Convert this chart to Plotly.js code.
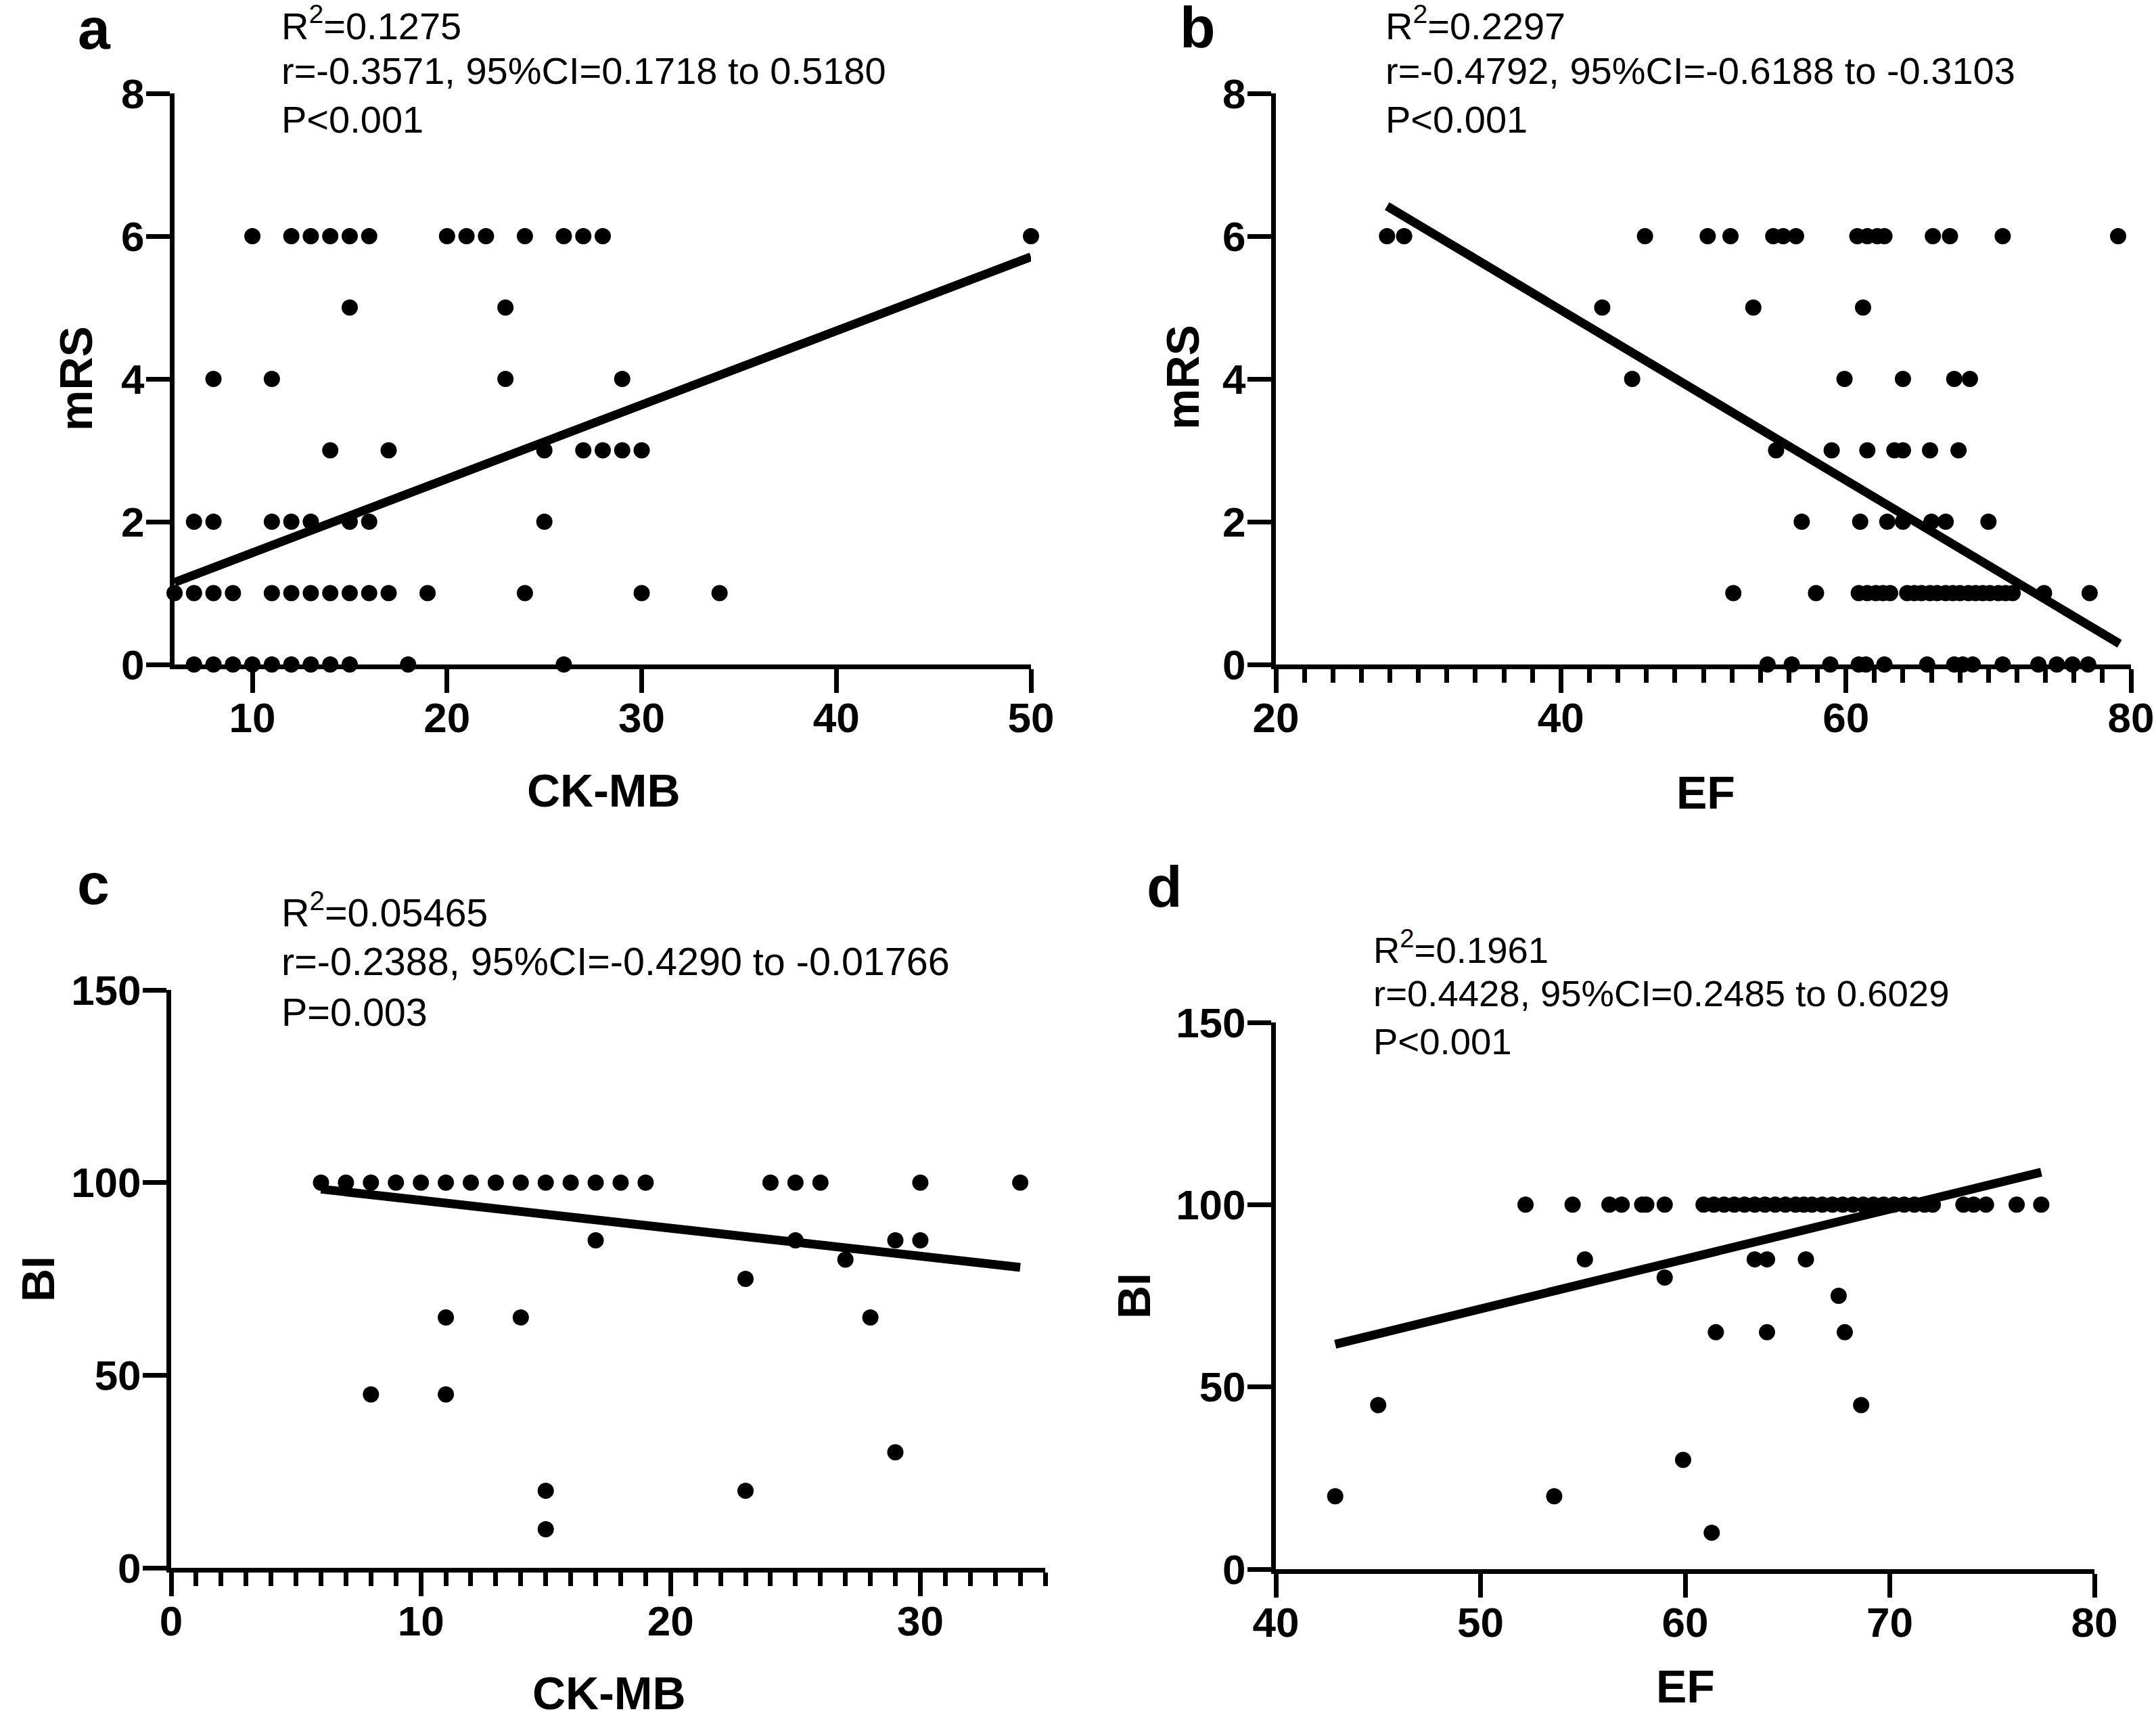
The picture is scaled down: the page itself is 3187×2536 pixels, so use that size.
<!DOCTYPE html>
<html>
<head>
<meta charset="utf-8">
<script src="https://cdn.plot.ly/plotly-3.0.1.min.js"></script>
<style>html,body{margin:0;padding:0;background:#fff;}</style>
</head>
<body>
<div id="chart" style="width:3187px;height:2536px;"></div>
<script>
// ---------- Panel a: CK-MB vs mRS ----------
const ckmbA = [10,12,13,14,15,16,20,21,22,24,26,27,28,50,
               15,23,
               8,11,23,29,
               14,17,25,27,28,29,30,
               7,8,11,12,13,15,16,25,
               6,7,8,9,11,12,13,14,15,16,17,19,24,30,34,
               7,8,9,10,11,12,13,14,15,18,26];
const mrsA  = [6,6,6,6,6,6,6,6,6,6,6,6,6,6,
               5,5,
               4,4,4,4,
               3,3,3,3,3,3,3,
               2,2,2,2,2,2,2,2,
               1,1,1,1,1,1,1,1,1,1,1,1,1,1,1,
               0,0,0,0,0,0,0,0,0,0,0];
const fitA_x = [6, 50];
const fitA_y = [1.15, 5.71];

// ---------- Panel b: EF vs mRS ----------
const efB  = [27.8,29.0,45.9,50.3,51.9,54.9,55.6,56.5,60.8,61.5,62.2,62.7,66.1,67.3,71.0,79.1,
              42.9,53.5,61.2,
              45.0,59.9,64.0,67.6,68.7,
              55.1,59.0,61.5,63.4,64.0,65.9,67.9,
              56.9,61.0,62.9,64.0,66.0,67.0,70.0,
              52.1,57.9,60.9,61.5,62.1,62.6,63.1,64.3,64.8,65.3,65.9,66.4,67.0,67.5,68.0,68.6,69.1,69.6,70.1,70.7,71.2,71.7,73.9,77.1,
              54.5,56.2,58.9,60.9,61.4,62.7,65.7,67.6,68.2,68.9,71.0,73.5,74.8,75.9,77.0];
const mrsB = [6,6,6,6,6,6,6,6,6,6,6,6,6,6,6,6,
              5,5,5,
              4,4,4,4,4,
              3,3,3,3,3,3,3,
              2,2,2,2,2,2,2,
              1,1,1,1,1,1,1,1,1,1,1,1,1,1,1,1,1,1,1,1,1,1,1,1,
              0,0,0,0,0,0,0,0,0,0,0,0,0,0,0];
const fitB_x = [27.8, 79.2];
const fitB_y = [6.42, 0.29];

// ---------- Panel c: CK-MB vs BI ----------
const ckmbC = [6,7,8,9,10,11,12,13,14,15,16,17,18,19,24,25,26,30,34,
               17,25,29,30,
               27,
               23,
               11,14,28,
               8,11,
               29,
               15,23,
               15];
const biC   = [100,100,100,100,100,100,100,100,100,100,100,100,100,100,100,100,100,100,100,
               85,85,85,85,
               80,
               75,
               65,65,65,
               45,45,
               30,
               20,20,
               10];
const fitC_x = [6, 34];
const fitC_y = [98.3, 78.0];

// ---------- Panel d: EF vs BI ----------
const efD = [52.2,54.5,56.3,56.9,57.9,58.1,59.0,
             60.9,61.4,61.9,62.4,62.9,63.4,63.9,64.4,64.9,65.4,65.8,66.2,66.7,67.2,67.7,68.2,68.7,69.2,69.7,70.2,70.7,71.2,71.7,72.1,
             73.6,74.1,74.7,76.2,77.4,
             55.1,63.4,64.0,65.9,
             59.0,
             67.5,
             61.5,64.0,67.8,
             45.0,68.6,
             59.9,
             42.9,53.6,
             61.3];
const biD = [100,100,100,100,100,100,100,
             100,100,100,100,100,100,100,100,100,100,100,100,100,100,100,100,100,100,100,100,100,100,100,100,
             100,100,100,100,100,
             85,85,85,85,
             80,
             75,
             65,65,65,
             45,45,
             30,
             20,20,
             10];
const fitD_x = [42.9, 77.4];
const fitD_y = [61.7, 108.9];

// ---------- Tick values ----------
const ticksXA = [10, 20, 30, 40, 50];
const ticksXB = [20, 40, 60, 80];
const ticksXC = [0, 10, 20, 30];
const ticksXD = [40, 50, 60, 70, 80];
const ticksMRS = [0, 2, 4, 6, 8];
const ticksBI = [0, 50, 100, 150];

// ---------- Text ----------
const panelLetters = ['a','b','c','d'];
const statsA = ['R<sup>2</sup>=0.1275', 'r=-0.3571, 95%CI=0.1718 to 0.5180', 'P&lt;0.001'];
const statsB = ['R<sup>2</sup>=0.2297', 'r=-0.4792, 95%CI=-0.6188 to -0.3103', 'P&lt;0.001'];
const statsC = ['R<sup>2</sup>=0.05465', 'r=-0.2388, 95%CI=-0.4290 to -0.01766', 'P=0.003'];
const statsD = ['R<sup>2</sup>=0.1961', 'r=0.4428, 95%CI=0.2485 to 0.6029', 'P&lt;0.001'];
const xTitles = ['CK-MB','EF','CK-MB','EF'];
const yTitles = ['mRS','mRS','BI','BI'];

// ---------- Layout helpers ----------
const W = 3187, H = 2536;
const FAM = 'Liberation Sans, Arial, Helvetica, sans-serif';
const px = x => x / W;
const py = y => 1 - y / H;

function scat(x, y, xa, ya) {
  return {x: x, y: y, xaxis: xa, yaxis: ya, type: 'scatter', mode: 'markers',
          marker: {color: '#000', size: 24, line: {width: 0}}, cliponaxis: false, hoverinfo: 'skip'};
}
function fit(x, y, xa, ya) {
  return {x: x, y: y, xaxis: xa, yaxis: ya, type: 'scatter', mode: 'lines',
          line: {color: '#000', width: 13}, cliponaxis: false, hoverinfo: 'skip'};
}
const data = [
  scat(ckmbA, mrsA, 'x', 'y'),   fit(fitA_x, fitA_y, 'x', 'y'),
  scat(efB, mrsB, 'x2', 'y2'),   fit(fitB_x, fitB_y, 'x2', 'y2'),
  scat(ckmbC, biC, 'x3', 'y3'),  fit(fitC_x, fitC_y, 'x3', 'y3'),
  scat(efD, biD, 'x4', 'y4'),    fit(fitD_x, fitD_y, 'x4', 'y4')
];

function ax(extra, isX) {
  return Object.assign({
    showgrid: false, zeroline: false, showline: true, linecolor: '#000', linewidth: 7,
    ticks: 'outside', ticklen: 35, tickwidth: 7, tickcolor: '#000',
    tickmode: 'array', ticklabeloverflow: 'allow',
    ticklabelstandoff: isX ? -16 : -10,
    tickfont: {family: FAM, size: 62, color: '#000', weight: 'bold'},
    fixedrange: true
  }, extra);
}
const minorTicks = d => ({dtick: d, tick0: 0, ticks: 'outside', ticklen: 20, tickwidth: 7, tickcolor: '#000', showgrid: false});

const layout = {
  width: W, height: H, margin: {l: 0, r: 0, t: 0, b: 0},
  paper_bgcolor: '#fff', plot_bgcolor: 'rgba(0,0,0,0)', showlegend: false,
  xaxis:  ax({domain: [px(258), px(1524)], range: [6, 50], tickvals: ticksXA, anchor: 'y'}, true),
  yaxis:  ax({domain: [py(982), py(138)], range: [0, 8], tickvals: ticksMRS, anchor: 'x'}, false),
  xaxis2: ax({domain: [px(1886), px(3150)], range: [20, 80], tickvals: ticksXB, anchor: 'y2', minor: minorTicks(2)}, true),
  yaxis2: ax({domain: [py(982), py(138)], range: [0, 8], tickvals: ticksMRS, anchor: 'x2'}, false),
  xaxis3: ax({domain: [px(253), px(1545)], range: [0, 35], tickvals: ticksXC, anchor: 'y3', minor: minorTicks(1)}, true),
  yaxis3: ax({domain: [py(2317), py(1463)], range: [0, 150], tickvals: ticksBI, anchor: 'x3'}, false),
  xaxis4: ax({domain: [px(1886), px(3096)], range: [40, 80], tickvals: ticksXD, anchor: 'y4'}, true),
  yaxis4: ax({domain: [py(2319), py(1511)], range: [0, 150], tickvals: ticksBI, anchor: 'x4'}, false),
  annotations: []
};

function ann(text, x, y, opts) {
  layout.annotations.push(Object.assign({
    text: text, xref: 'paper', yref: 'paper', x: px(x), y: py(y),
    showarrow: false, xanchor: 'left', yanchor: 'middle',
    font: {family: FAM, size: 56, color: '#000'}
  }, opts || {}));
}

// panel letters
const letterPos = [[113, 42], [1742, 40], [112, 1306], [1693, 1310]];
panelLetters.forEach((t, i) => ann(t, letterPos[i][0], letterPos[i][1],
  {font: {family: FAM, size: 86, color: '#000', weight: 'bold'}}));

// stats text
const statSets = [statsA, statsB, statsC, statsD];
const statSizes = [56, 56, 57.5, 54.5];
const statPos = [[414, [34, 105, 176]], [2046, [34, 105, 176]], [414, [1345, 1421, 1496]], [2028, [1400, 1469, 1539]]];
statSets.forEach((s, i) => s.forEach((line, j) => ann(line, statPos[i][0], statPos[i][1][j],
  {font: {family: FAM, size: statSizes[i], color: '#000'}})));

// axis titles
const xTitlePos = [[892, 1168], [2521, 1171], [900, 2502], [2491, 2492]];
const yTitlePos = [[112, 560], [1748, 558], [56, 1890], [1676, 1915]];
xTitles.forEach((t, i) => ann(t, xTitlePos[i][0], xTitlePos[i][1],
  {xanchor: 'center', font: {family: FAM, size: 68, color: '#000', weight: 'bold'}}));
yTitles.forEach((t, i) => ann(t, yTitlePos[i][0], yTitlePos[i][1],
  {xanchor: 'center', textangle: -90, font: {family: FAM, size: 68, color: '#000', weight: 'bold'}}));

Plotly.newPlot('chart', data, layout, {staticPlot: true, displayModeBar: false});
</script>
</body>
</html>
